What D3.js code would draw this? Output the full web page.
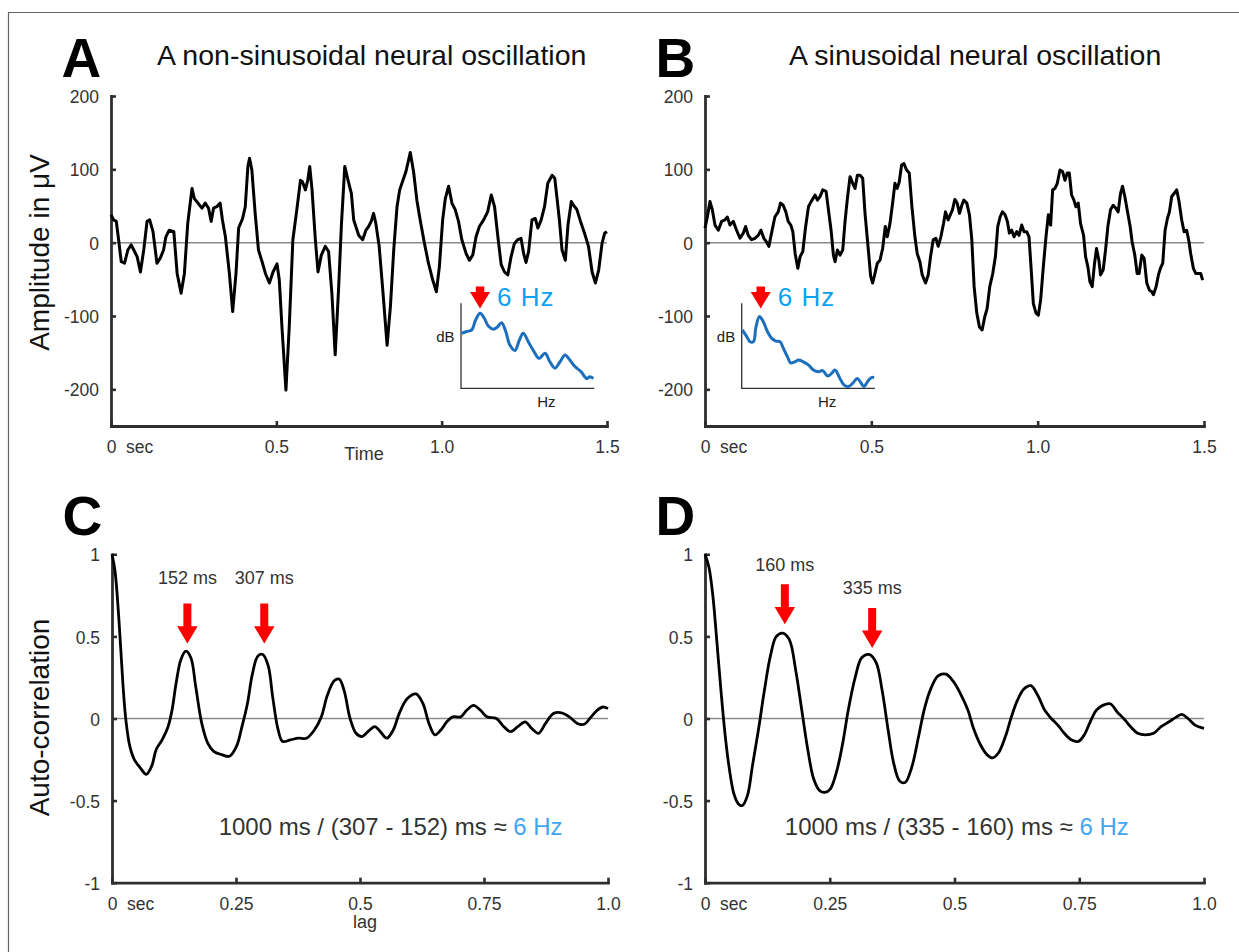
<!DOCTYPE html>
<html>
<head>
<meta charset="utf-8">
<script src="https://cdnjs.cloudflare.com/ajax/libs/d3/7.8.5/d3.min.js"></script>
<style>
  body { margin: 0; background: #fff; }
  text { font-family: "Liberation Sans", Arial, Helvetica, sans-serif; }
  .letter { font-size: 55px; font-weight: bold; fill: #000; }
  .title  { font-size: 28.5px; fill: #111; }
  .ylab   { font-size: 28px; fill: #111; }
  .tick text, .sec { font-size: 17.5px; fill: #333; }
  .xlab   { font-size: 18px; fill: #333; }
  .note   { font-size: 18px; fill: #333; }
  .formula { font-size: 24px; fill: #333; }
  .inset  { font-family: "Noto Sans", "Open Sans", sans-serif; }
</style>
</head>
<body>
<svg id="fig"></svg>
<script>
// ---- data ----
// A: non-sinusoidal trace, [sec, uV]
var sigA = [[0,38],[0.008,31],[0.016,29],[0.023,4],[0.031,-26],[0.041,-28],[0.051,-10],[0.061,-3],[0.069,-10],[0.079,-19],
  [0.089,-40],[0.099,-10],[0.109,29],[0.117,31],[0.127,15],[0.139,-28],[0.149,-21],[0.159,-10],[0.166,8],[0.176,17],
  [0.190,15],[0.2,-42],[0.212,-69],[0.222,-42],[0.232,26],[0.245,74],[0.252,60],[0.263,54],[0.275,47],[0.285,54],
  [0.295,47],[0.303,29],[0.31,47],[0.32,49],[0.33,54],[0.337,31],[0.346,8],[0.358,-42],[0.368,-94],[0.378,-42],
  [0.386,20],[0.398,33],[0.406,49],[0.414,104],[0.419,115],[0.426,99],[0.436,40],[0.446,-10],[0.457,-26],[0.467,-42],
  [0.479,-55],[0.49,-40],[0.502,-29],[0.509,-51],[0.517,-115],[0.529,-201],[0.539,-115],[0.55,4],[0.562,45],[0.573,85],
  [0.579,83],[0.588,72],[0.595,85],[0.601,104],[0.608,72],[0.618,4],[0.626,-40],[0.636,-17],[0.648,-5],[0.658,-12],
  [0.668,-69],[0.678,-153],[0.688,-65],[0.697,26],[0.707,104],[0.717,85],[0.727,67],[0.734,31],[0.739,24],[0.749,10],
  [0.761,4],[0.771,17],[0.779,22],[0.787,29],[0.794,40],[0.801,26],[0.811,-5],[0.822,-65],[0.835,-140],[0.845,-87],
  [0.855,-10],[0.865,49],[0.873,72],[0.883,85],[0.892,97],[0.905,123],[0.915,97],[0.925,58],[0.935,31],[0.948,-1],
  [0.96,-28],[0.973,-51],[0.984,-67],[0.993,-33],[1.003,31],[1.011,60],[1.021,77],[1.031,54],[1.041,45],[1.051,29],
  [1.061,4],[1.074,-15],[1.084,-24],[1.094,-17],[1.104,8],[1.114,22],[1.127,31],[1.139,42],[1.15,65],[1.16,49],
  [1.17,8],[1.18,-30],[1.19,-40],[1.2,-44],[1.21,-19],[1.22,-1],[1.23,4],[1.24,6],[1.248,-15],[1.255,-27],
  [1.263,-12],[1.273,31],[1.283,33],[1.291,20],[1.301,31],[1.311,49],[1.321,81],[1.334,92],[1.342,88],[1.349,60],
  [1.356,31],[1.364,-10],[1.374,-24],[1.382,24],[1.392,56],[1.399,51],[1.409,45],[1.422,26],[1.434,10],[1.444,-5],
  [1.455,-40],[1.465,-55],[1.475,-37],[1.485,-1],[1.493,13],[1.5,15]];

// B: sinusoidal trace, [sec, uV]
var sigB = [[0,20],[0.007,35],[0.015,56],[0.022,45],[0.03,24],[0.04,17],[0.05,29],[0.06,31],[0.067,35],[0.075,24],
  [0.085,29],[0.095,17],[0.105,6],[0.115,13],[0.122,22],[0.13,10],[0.14,4],[0.15,6],[0.16,10],[0.168,17],
  [0.177,6],[0.185,1],[0.192,-5],[0.2,13],[0.21,35],[0.22,42],[0.227,54],[0.235,51],[0.243,42],[0.25,29],
  [0.258,24],[0.264,15],[0.271,-15],[0.279,-35],[0.286,-19],[0.294,-12],[0.302,20],[0.311,49],[0.319,56],[0.331,65],
  [0.338,58],[0.346,63],[0.354,72],[0.364,70],[0.371,45],[0.379,17],[0.386,-17],[0.391,-26],[0.398,-10],[0.406,-17],
  [0.414,-10],[0.421,29],[0.428,60],[0.436,90],[0.444,81],[0.451,74],[0.458,92],[0.466,92],[0.474,88],[0.481,40],
  [0.491,-10],[0.498,-46],[0.504,-55],[0.511,-42],[0.518,-28],[0.526,-24],[0.534,-8],[0.542,22],[0.548,8],[0.556,26],
  [0.564,54],[0.571,81],[0.578,74],[0.584,83],[0.591,106],[0.598,108],[0.606,99],[0.614,95],[0.622,49],[0.631,8],
  [0.638,-15],[0.646,-26],[0.653,-44],[0.663,-55],[0.671,-44],[0.678,-19],[0.686,4],[0.694,6],[0.701,-5],[0.709,8],
  [0.717,26],[0.723,42],[0.731,31],[0.744,45],[0.751,59],[0.758,54],[0.765,40],[0.772,51],[0.778,58],[0.787,54],
  [0.795,38],[0.802,4],[0.809,-60],[0.817,-96],[0.825,-115],[0.833,-119],[0.841,-101],[0.848,-90],[0.856,-60],[0.865,-42],
  [0.873,-19],[0.88,22],[0.887,35],[0.894,42],[0.902,38],[0.909,29],[0.915,13],[0.922,17],[0.929,8],[0.937,15],
  [0.944,10],[0.952,24],[0.959,15],[0.967,15],[0.974,8],[0.98,-33],[0.987,-83],[0.995,-96],[1.002,-99],[1.009,-78],
  [1.017,-33],[1.025,8],[1.032,38],[1.039,24],[1.045,72],[1.052,74],[1.059,81],[1.067,99],[1.075,97],[1.082,85],
  [1.089,95],[1.095,95],[1.102,65],[1.109,58],[1.115,49],[1.122,54],[1.129,26],[1.138,10],[1.144,-19],[1.151,-33],
  [1.157,-53],[1.164,-60],[1.171,-28],[1.177,-8],[1.184,-24],[1.189,-44],[1.197,-37],[1.204,-10],[1.211,22],[1.219,45],
  [1.227,51],[1.235,47],[1.242,42],[1.249,67],[1.255,77],[1.262,63],[1.269,45],[1.278,22],[1.284,1],[1.292,-17],
  [1.299,-42],[1.305,-42],[1.313,-17],[1.32,-21],[1.328,-55],[1.336,-65],[1.343,-67],[1.348,-71],[1.356,-60],[1.363,-44],
  [1.369,-35],[1.376,-28],[1.383,17],[1.39,33],[1.396,42],[1.403,63],[1.41,67],[1.418,72],[1.425,56],[1.433,31],
  [1.44,15],[1.448,17],[1.455,1],[1.46,-15],[1.468,-35],[1.475,-42],[1.483,-42],[1.49,-42],[1.496,-51]];

// inset spectra, [Hz, relative dB]
var specA = [[0.2,-8.8],[1.8,-8.3],[3.4,-7.8],[4.6,-4.9],[6.0,-2.9],[7.35,-4.4],[8.6,-6.7],[10.2,-7.6],[11.55,-6.9],[12.8,-5.7],
  [14.1,-8.3],[15.4,-12.3],[17.0,-13.9],[18.4,-10.8],[19.6,-8.8],[21.2,-11.3],[23.0,-14.2],[24.6,-16.2],[26.5,-14.7],[28.0,-17.2],
  [29.6,-19.1],[31.2,-17.2],[32.8,-15.2],[34.3,-16.7],[35.9,-18.6],[37.8,-20.1],[39.6,-22.1],[40.6,-21.6],[41.7,-22.1]];
var specB = [[0.2,-7.8],[1.6,-9.8],[2.6,-11.3],[3.7,-11.3],[4.5,-6.9],[5.6,-3.9],[6.8,-5.4],[8.1,-8.3],[9.45,-10.3],[10.8,-11.1],
  [12.1,-11.3],[13.1,-13.2],[14.4,-15.7],[15.4,-17.5],[16.8,-17.2],[17.9,-16.7],[19.4,-17.2],[21.0,-18.1],[22.6,-19.6],[24.2,-20.1],
  [25.5,-19.8],[27.1,-21.4],[28.35,-20.6],[29.4,-19.6],[30.8,-21.8],[32.2,-24],[33.6,-24.5],[35.0,-23.5],[36.4,-22.1],[37.5,-23.3],
  [38.5,-24.5],[39.9,-22.7],[41.0,-21.8],[41.7,-21.9]];

// C / D: auto-correlation, [lag sec, r]
var acC = [[0,1],[0.006,0.9],[0.014,0.6],[0.022,0.21],[0.028,-0.01],[0.036,-0.17],[0.045,-0.25],[0.057,-0.3],[0.069,-0.34],[0.08,-0.29],
  [0.089,-0.19],[0.101,-0.13],[0.113,-0.05],[0.121,0.05],[0.129,0.21],[0.139,0.36],[0.149,0.41],[0.159,0.37],[0.169,0.19],[0.181,-0.03],
  [0.193,-0.15],[0.205,-0.2],[0.221,-0.22],[0.237,-0.23],[0.251,-0.17],[0.262,-0.05],[0.273,0.09],[0.283,0.27],[0.294,0.38],[0.304,0.39],
  [0.315,0.32],[0.324,0.13],[0.335,-0.07],[0.344,-0.14],[0.36,-0.13],[0.376,-0.12],[0.392,-0.12],[0.408,-0.07],[0.422,0.01],[0.434,0.14],
  [0.448,0.23],[0.458,0.24],[0.468,0.17],[0.48,0],[0.492,-0.09],[0.504,-0.11],[0.516,-0.08],[0.53,-0.05],[0.541,-0.08],[0.554,-0.12],
  [0.567,-0.07],[0.579,0.03],[0.595,0.12],[0.613,0.15],[0.627,0.09],[0.639,-0.03],[0.651,-0.1],[0.663,-0.07],[0.675,-0.02],[0.687,0.01],
  [0.703,0.01],[0.715,0.05],[0.729,0.08],[0.743,0.05],[0.756,0.01],[0.775,0],[0.79,-0.05],[0.804,-0.08],[0.818,-0.05],[0.833,-0.02],
  [0.846,-0.06],[0.86,-0.09],[0.874,-0.03],[0.89,0.03],[0.906,0.035],[0.922,0.01],[0.938,-0.03],[0.952,-0.035],[0.966,0.01],[0.978,0.05],
  [0.99,0.07],[1.0,0.06]];
var acD = [[0,1],[0.008,0.92],[0.016,0.74],[0.024,0.46],[0.032,0.17],[0.04,-0.09],[0.048,-0.29],[0.058,-0.46],[0.067,-0.52],[0.075,-0.53],
  [0.085,-0.47],[0.095,-0.29],[0.107,-0.07],[0.119,0.17],[0.131,0.38],[0.143,0.5],[0.156,0.52],[0.169,0.48],[0.182,0.29],[0.194,0.05],
  [0.206,-0.19],[0.218,-0.37],[0.23,-0.44],[0.24,-0.45],[0.251,-0.43],[0.264,-0.32],[0.276,-0.15],[0.287,0.05],[0.301,0.25],[0.314,0.37],
  [0.329,0.39],[0.343,0.34],[0.355,0.17],[0.367,-0.07],[0.378,-0.27],[0.39,-0.38],[0.401,-0.39],[0.414,-0.3],[0.428,-0.11],[0.439,0.05],
  [0.451,0.17],[0.467,0.26],[0.483,0.27],[0.499,0.22],[0.512,0.15],[0.527,0.05],[0.538,-0.06],[0.552,-0.16],[0.565,-0.22],[0.576,-0.24],
  [0.588,-0.21],[0.602,-0.11],[0.614,0.01],[0.626,0.11],[0.639,0.18],[0.653,0.2],[0.667,0.14],[0.681,0.05],[0.694,0],[0.707,-0.04],
  [0.72,-0.09],[0.734,-0.13],[0.748,-0.14],[0.76,-0.1],[0.772,-0.02],[0.784,0.05],[0.797,0.08],[0.812,0.09],[0.826,0.04],[0.839,0],
  [0.853,-0.05],[0.867,-0.09],[0.883,-0.1],[0.899,-0.09],[0.914,-0.05],[0.93,-0.02],[0.945,0.01],[0.956,0.025],[0.968,0],[0.982,-0.04],
  [1.0,-0.06]];

// peak annotations: lag in ms, arrow tip (r), label height (r)
var peaksC = [{ms:152, tip:0.457, lab:0.818}, {ms:307, tip:0.457, lab:0.818}];
var peaksD = [{ms:160, tip:0.574, lab:0.899}, {ms:335, tip:0.430, lab:0.761}];

var ticksTime = [0, 0.5, 1.0, 1.5];
var ticksAmp  = [-200, -100, 0, 100, 200];
var ticksLag  = [0, 0.25, 0.5, 0.75, 1.0];
var ticksR    = [-1, -0.5, 0, 0.5, 1];

// ---- figure ----
var svg = d3.select('#fig').attr('width', 1239).attr('height', 952);
svg.append('rect').attr('width', 1239).attr('height', 952).attr('fill', '#fff');
svg.append('path').attr('d', 'M8.5,952V12.5H1239').attr('fill', 'none')
   .attr('stroke', '#666').attr('stroke-width', 1.2);

var fmtTime = function(d) { return d === 0 ? '0' : d.toFixed(1); };
var fmtLag  = function(d) { return d === 0 ? '0' : (d === 1 ? '1.0' : String(d)); };
var fmtPlain = function(d) { return String(d); };

function arrowPath(x, yTip, len, headH, headW, shaftW) {
  return 'M' + (x - shaftW/2) + ',' + (yTip - len) +
         'H' + (x + shaftW/2) + 'V' + (yTip - headH) +
         'H' + (x + headW/2) + 'L' + x + ',' + yTip +
         'L' + (x - headW/2) + ',' + (yTip - headH) +
         'H' + (x - shaftW/2) + 'Z';
}

function panel(opt) {
  var r = {};
  r.x = d3.scaleLinear().domain(opt.xDomain).range([opt.left, opt.right]);
  r.y = d3.scaleLinear().domain(opt.yDomain).range([opt.bottom, opt.top]);
  r.g = svg.append('g');

  r.g.append('text').attr('class', 'letter')
     .attr('x', opt.left - 49.5).attr('y', opt.top - 19).text(opt.letter);
  if (opt.title) {
    r.g.append('text').attr('class', 'title')
       .attr('x', opt.titleX).attr('y', 65).text(opt.title);
  }

  // zero line
  r.g.append('line')
     .attr('x1', r.x(opt.xDomain[0])).attr('x2', r.x(opt.xDomain[1]))
     .attr('y1', r.y(0)).attr('y2', r.y(0))
     .attr('stroke', '#8a8a8a').attr('stroke-width', 1.5);

  // axes, ticks inward
  var gx = r.g.append('g')
     .attr('transform', 'translate(0,' + opt.bottom + ')')
     .call(d3.axisBottom(r.x).tickValues(opt.xTicks).tickFormat(opt.xFmt)
             .tickSizeInner(-5).tickSizeOuter(0).tickPadding(15));
  var gy = r.g.append('g')
     .attr('transform', 'translate(' + opt.left + ',0)')
     .call(d3.axisLeft(r.y).tickValues(opt.yTicks).tickFormat(opt.yFmt)
             .tickSizeInner(-5).tickSizeOuter(0).tickPadding(12));
  [gx, gy].forEach(function(a) {
    a.attr('color', '#2e2e2e');
    a.select('.domain').attr('stroke-width', 2.8).attr('stroke-linecap', 'square');
    a.selectAll('.tick line').attr('stroke-width', 2.6);
  });
  gy.selectAll('.tick text').attr('dy', '0.38em');

  r.g.append('text').attr('class', 'sec')
     .attr('x', opt.left + 15).attr('y', opt.bottom + 27).text('sec');
  if (opt.xLabel) {
    r.g.append('text').attr('class', 'xlab').attr('text-anchor', 'middle')
       .attr('x', (opt.left + opt.right) / 2 + 5).attr('y', opt.bottom + opt.xLabelDy)
       .text(opt.xLabel);
  }
  if (opt.yLabel) {
    r.g.append('text').attr('class', 'ylab').attr('text-anchor', 'middle')
       .attr('transform', 'translate(48.5,' + ((opt.top + opt.bottom) / 2 + opt.yLabelDy) + ') rotate(-90)')
       .text(opt.yLabel);
  }

  // trace
  r.g.append('path').datum(opt.data)
     .attr('fill', 'none').attr('stroke', '#000')
     .attr('stroke-width', opt.lineW).attr('stroke-linejoin', 'round')
     .attr('d', d3.line().x(function(d) { return r.x(d[0]); })
                         .y(function(d) { return r.y(d[1]); })
                         .curve(opt.curve));
  return r;
}

function inset(r, spec, left) {
  var f  = d3.scaleLinear().domain([0, 42]).range([left, left + 133.3]);
  var db = d3.scaleLinear().domain([-25, 0]).range([388.3, 303.3]);
  var g = r.g.append('g').attr('class', 'inset');
  g.append('path').attr('d', 'M' + left + ',303.3V388.3H' + (left + 133.3))
   .attr('fill', 'none').attr('stroke', '#333').attr('stroke-width', 1.3);
  g.append('path').datum(spec)
   .attr('fill', 'none').attr('stroke', '#1b6fbc').attr('stroke-width', 3)
   .attr('stroke-linejoin', 'round')
   .attr('d', d3.line().x(function(d) { return f(d[0]); })
                       .y(function(d) { return db(d[1]); })
                       .curve(d3.curveCatmullRom));
  g.append('path').attr('fill', '#f00')
   .attr('d', arrowPath(f(6), db(-1.5), 22, 16.5, 20, 8.5));
  g.append('text').attr('x', f(6) + 17).attr('y', db(-1.5) - 2.6)
   .attr('font-size', 26).attr('letter-spacing', 1).attr('fill', '#0aa2f0').text('6 Hz');
  g.append('text').attr('x', left - 6.5).attr('y', 341.7).attr('text-anchor', 'end')
   .attr('font-size', 15).attr('fill', '#222').text('dB');
  g.append('text').attr('x', f(26.9)).attr('y', 407).attr('text-anchor', 'middle')
   .attr('font-size', 15).attr('fill', '#222').text('Hz');
}

function peaks(r, list, formula, fLag) {
  list.forEach(function(p) {
    var x = r.x(p.ms / 1000);
    r.g.append('path').attr('fill', '#f00')
       .attr('d', arrowPath(x, r.y(p.tip), 40, 17.3, 20.5, 8));
    r.g.append('text').attr('class', 'note').attr('text-anchor', 'middle')
       .attr('x', x).attr('y', r.y(p.lab)).text(p.ms + ' ms');
  });
  var t = r.g.append('text').attr('class', 'formula')
     .attr('x', r.x(fLag)).attr('y', 834.5).text(formula + ' ');
  t.append('tspan').attr('fill', '#42a5f2').text('6 Hz');
}

var A = panel({letter: 'A', title: 'A non-sinusoidal neural oscillation', titleX: 157,
  left: 111, right: 607, top: 96, bottom: 426, xDomain: [0, 1.5], yDomain: [-250, 200],
  xTicks: ticksTime, yTicks: ticksAmp, xFmt: fmtTime, yFmt: fmtPlain,
  xLabel: 'Time', xLabelDy: 33.5, yLabel: 'Amplitude in \u03bcV', yLabelDy: -8.5,
  data: sigA, lineW: 3, curve: d3.curveLinear});
var B = panel({letter: 'B', title: 'A sinusoidal neural oscillation', titleX: 789,
  left: 705, right: 1204, top: 96, bottom: 426, xDomain: [0, 1.5], yDomain: [-250, 200],
  xTicks: ticksTime, yTicks: ticksAmp, xFmt: fmtTime, yFmt: fmtPlain,
  data: sigB, lineW: 3, curve: d3.curveLinear});
var C = panel({letter: 'C', left: 112, right: 608, top: 554.3, bottom: 882.7,
  xDomain: [0, 1], yDomain: [-1, 1], xTicks: ticksLag, yTicks: ticksR, xFmt: fmtLag, yFmt: fmtPlain,
  xLabel: 'lag', xLabelDy: 45, yLabel: 'Auto-correlation', yLabelDy: -1,
  data: acC, lineW: 2.8, curve: d3.curveCatmullRom});
var D = panel({letter: 'D', left: 705, right: 1204, top: 554.3, bottom: 882.7,
  xDomain: [0, 1], yDomain: [-1, 1], xTicks: ticksLag, yTicks: ticksR, xFmt: fmtLag, yFmt: fmtPlain,
  data: acD, lineW: 2.8, curve: d3.curveCatmullRom});

inset(A, specA, 461);
inset(B, specB, 741.7);
peaks(C, peaksC, '1000 ms / (307 - 152) ms \u2248', 0.215);
peaks(D, peaksD, '1000 ms / (335 - 160) ms \u2248', 0.160);
</script>
</body>
</html>
